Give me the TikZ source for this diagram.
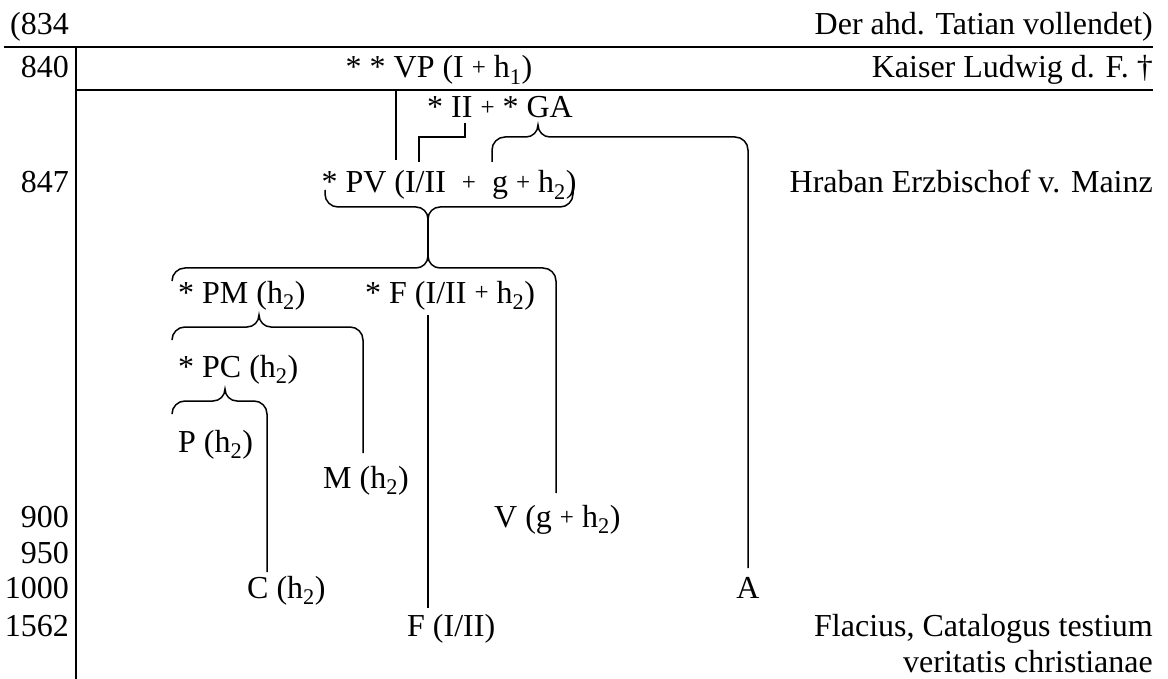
\documentclass[tikz,border=0pt]{standalone}
\usepackage{fontspec}
\setmainfont{Liberation Serif}
\newcommand{\hh}[1]{h\textsubscript{#1}}
\newcommand{\pl}{\raisebox{2pt}{\fontsize{25}{25}\selectfont+}}
% brace opening downwards, tip up: left x, tip x, right x, y, left end y, right end y
\newcommand{\upbrace}[6]{\draw[stem] (#1,#5) -- (#1,#4+13) to[out=90,in=180] (#1+13,#4) -- (#2-12,#4) to[out=0,in=-90] (#2,#4-12) to[out=-90,in=180] (#2+12,#4) -- (#3-13,#4) to[out=0,in=90] (#3,#4+13) -- (#3,#6);}
% brace under a text, tip down
\newcommand{\downbrace}[6]{\draw[stem] (#1,#5) -- (#1,#4-13) to[out=-90,in=180] (#1+13,#4) -- (#2-12,#4) to[out=0,in=90] (#2,#4+12) to[out=90,in=180] (#2+12,#4) -- (#3-13,#4) to[out=0,in=-90] (#3,#4-13) -- (#3,#6);}
\tikzset{every node/.style={inner sep=0pt,font=\fontsize{32}{37}\selectfont},
  year/.style={anchor=base east},note/.style={anchor=base east},
  ms/.style={anchor=base west},rule/.style={line width=2pt},stem/.style={line width=1.5pt}}

\begin{document}
\begin{tikzpicture}[x=1pt,y=-1pt]
\useasboundingbox (0,0) rectangle (1168,679);
\draw[rule] (4,47)--(1153,47);\draw[rule] (76,90)--(1153,90);\draw[rule] (76,47)--(76,679);
% years
\node[year] (yr834) at (69,35){(834};\node[year] (yr840) at (69,78){840};
\node[year] (yr847) at (69,193){847};\node[year] (yr900) at (69,527){900};
\node[year] (yr950) at (69,563){950};\node[year] (yr1000) at (69,598){1000};
\node[year] (yr1562) at (69,636){1562};
% notes on the right
\node[note] (tatian) at (1153,35){Der ahd. Tatian vollendet)};
\node[note] (ludwig) at (1153,78){Kaiser Ludwig d. F. †};
\node[note] (hraban) at (1153,193){Hraban Erzbischof v. Mainz};
\node[note] (flacius) at (1153,636){Flacius, Catalogus testium};
\node[note] (veritatis) at (1153,672){veritatis christianae};
% manuscripts
\node[anchor=base] (vp) at (439,78){* * VP (I \pl\ \hh1)};
\node[anchor=base] (iiga) at (500,118){* II \pl\ * GA};
\node[anchor=base] (pv) at (449,193){* PV (I/II\enspace\pl\enspace g \pl\ \hh2)};
\node[ms] (pm) at (178,303){* PM (\hh2)};\node[ms] (f) at (365,303){* F (I/II \pl\ \hh2)};
\node[ms] (pc) at (178,377){* PC (\hh2)};
\node[ms] (p) at (178,452){P (\hh2)};\node[ms] (m) at (323,488){M (\hh2)};
\node[ms] (v) at (494,527){V (g \pl\ \hh2)};
\node[ms] (c) at (247,598){C (\hh2)};\node[anchor=base] (a) at (748,598){A};
\node[ms] (fl) at (407,636){F (I/II)};
% stemma lines
\coordinate (pvtip) at (428,219);\coordinate (bigtip) at (428,256);
\draw[stem] (396,90)--(396,160);
\draw[stem] (465,123)--(465,137)--(419,137)--(419,162);
\upbrace{492}{538}{748}{137}{162}{568}
\downbrace{325}{428}{573}{207}{190}{190}
\draw[stem] (pvtip)--(bigtip);
\upbrace{172}{428}{556}{268}{281}{493}
\draw[stem] (428,315)--(428,608);
\upbrace{172}{259}{363}{327}{339}{453}
\upbrace{172}{225}{267}{401}{413}{572}
\end{tikzpicture}
\end{document}
